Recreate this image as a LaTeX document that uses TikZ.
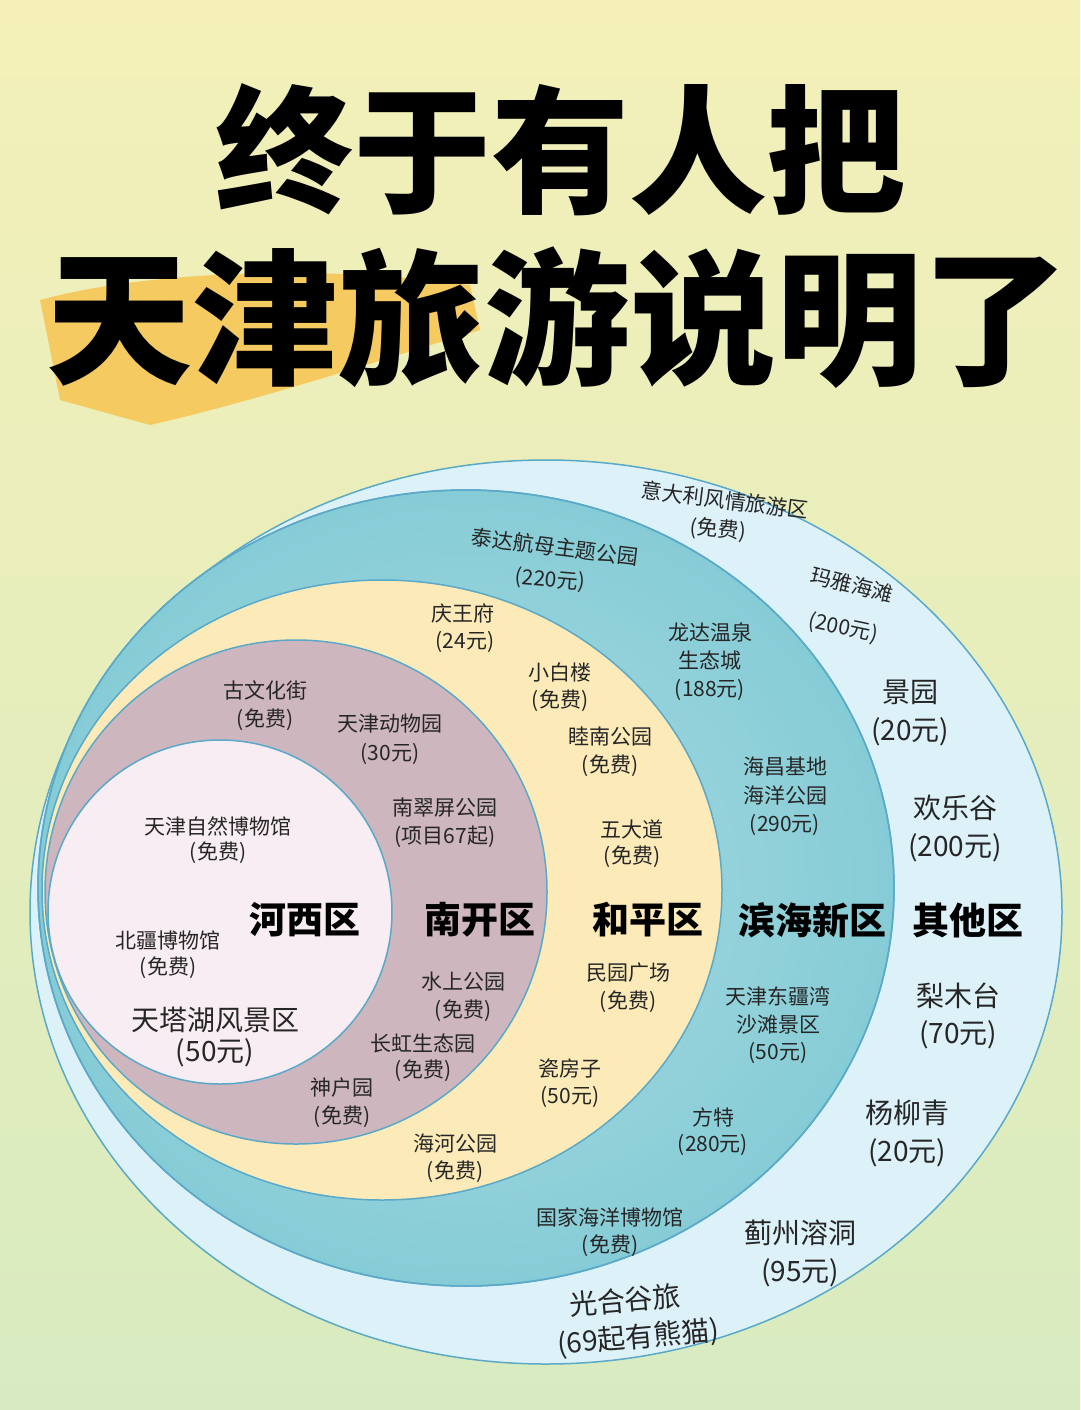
\documentclass[tikz,border=0pt]{standalone}
\usepackage{fontspec}
\setmainfont{Noto Sans CJK SC}
\usetikzlibrary{shapes.geometric}
\definecolor{bgtop}{HTML}{F4F0B8}
\definecolor{bgbot}{HTML}{D8EBC0}
\definecolor{outerc}{HTML}{DDF1F8}
\definecolor{tealc}{HTML}{86CCD6}
\definecolor{yelc}{HTML}{FCEBB8}
\definecolor{mauc}{HTML}{CDB6BE}
\definecolor{pinkc}{HTML}{F7EDF2}
\definecolor{edgec}{HTML}{5AA9C8}
\definecolor{brush}{HTML}{F7C552}
\tikzset{
 sm/.style={font=\fontsize{21}{24}\selectfont, text=black!85, inner sep=0pt},
 md/.style={font=\fontsize{28}{32}\selectfont, text=black!85, inner sep=0pt},
 dist/.style={font=\fontsize{37}{40}\selectfont\bfseries, text=black, inner sep=0pt},
 ttl/.style={font=\fontsize{138}{150}\selectfont\bfseries, text=black, inner sep=0pt},
 ring/.style={draw=edgec, line width=1.5pt}
}
\begin{document}
\begin{tikzpicture}[x=1pt,y=-1pt]
\useasboundingbox (0,0) rectangle (1080,1410);
\shade[top color=bgtop, bottom color=bgbot] (0,0) rectangle (1080,1410);
% brush stroke
\fill[brush, opacity=0.85] (40,300) .. controls (150,270) and (330,265) .. (470,285) -- (480,330) .. controls (380,360) and (260,400) .. (150,425) -- (60,400) -- cycle;
\node[ttl] (t1) at (560,150) {终于有人把};
\node[ttl, font=\fontsize{146}{150}\selectfont\bfseries] (t2) at (557,318) {天津旅游说明了};
% rings
\fill[outerc, ring] (546,912) ellipse [x radius=516pt, y radius=452pt];
\shade[ring, inner color=tealc!70, outer color=tealc] (466,888) ellipse [x radius=428pt, y radius=398pt];
\draw[ring] (466,888) ellipse [x radius=428pt, y radius=398pt];
\fill[yelc, ring] (382,890) ellipse [x radius=340pt, y radius=310pt];
\fill[mauc, ring] (296,892) ellipse [x radius=251pt, y radius=252pt];
\fill[pinkc, ring] (220,912) circle [radius=172pt];
% districts
\node[dist] (d1) at (305,920) {河西区};
\node[dist] (d2) at (480,920) {南开区};
\node[dist] (d3) at (648,920) {和平区};
\node[dist] (d4) at (812,920) {滨海新区};
\node[dist] (d5) at (968,920) {其他区};
% labels
\node[sm, rotate=-7] (a1) at (725,500) {意大利风情旅游区};
\node[sm, rotate=-5] (a2) at (718,530) {(免费)};
\node[sm, rotate=-7] (a3) at (555,547) {泰达航母主题公园};
\node[sm, rotate=-5] (a4) at (550,580) {(220元)};
\node[sm, rotate=-14] (a5) at (852,585) {玛雅海滩};
\node[sm, rotate=-12] (a6) at (843,628) {(200元)};
\node[sm] (b1) at (463,613) {庆王府};
\node[sm] (b2) at (465,642) {(24元)};
\node[sm] (b3) at (710,632) {龙达温泉};
\node[sm] (b4) at (710,661) {生态城};
\node[sm] (b5) at (710,690) {(188元)};
\node[sm] (b6) at (560,672) {小白楼};
\node[sm] (b7) at (560,701) {(免费)};
\node[sm] (c1) at (265,690) {古文化街};
\node[sm] (c2) at (265,720) {(免费)};
\node[md] (c3) at (910,692) {景园};
\node[md] (c4) at (910,732) {(20元)};
\node[sm] (c5) at (390,724) {天津动物园};
\node[sm] (c6) at (390,754) {(30元)};
\node[sm] (c7) at (610,737) {睦南公园};
\node[sm] (c8) at (610,766) {(免费)};
\node[sm] (e1) at (785,767) {海昌基地};
\node[sm] (e2) at (785,795) {海洋公园};
\node[sm] (e3) at (785,825) {(290元)};
\node[md] (e4) at (955,808) {欢乐谷};
\node[md] (e5) at (955,848) {(200元)};
\node[sm] (e6) at (445,808) {南翠屏公园};
\node[sm] (e7) at (445,837) {(项目67起)};
\node[sm] (f1) at (218,826) {天津自然博物馆};
\node[sm] (f2) at (218,853) {(免费)};
\node[sm] (f3) at (632,829) {五大道};
\node[sm] (f4) at (632,857) {(免费)};
\node[sm] (g1) at (168,940) {北疆博物馆};
\node[sm] (g2) at (168,968) {(免费)};
\node[sm] (g3) at (628,973) {民园广场};
\node[sm] (g4) at (628,1002) {(免费)};
\node[sm] (g5) at (463,982) {水上公园};
\node[sm] (g6) at (463,1011) {(免费)};
\node[sm] (h1) at (778,996) {天津东疆湾};
\node[sm] (h2) at (778,1025) {沙滩景区};
\node[sm] (h3) at (778,1053) {(50元)};
\node[md] (h4) at (958,996) {梨木台};
\node[md] (h5) at (958,1035) {(70元)};
\node[md] (h6) at (215,1020) {天塔湖风景区};
\node[md] (h7) at (215,1053) {(50元)};
\node[sm] (i1) at (423,1043) {长虹生态园};
\node[sm] (i2) at (423,1071) {(免费)};
\node[sm] (i3) at (570,1068) {瓷房子};
\node[sm] (i4) at (570,1097) {(50元)};
\node[sm] (i5) at (342,1088) {神户园};
\node[sm] (i6) at (342,1117) {(免费)};
\node[md] (j1) at (907,1113) {杨柳青};
\node[md] (j2) at (907,1153) {(20元)};
\node[sm] (j3) at (713,1117) {方特};
\node[sm] (j4) at (713,1145) {(280元)};
\node[sm] (j5) at (455,1143) {海河公园};
\node[sm] (j6) at (455,1172) {(免费)};
\node[sm] (k1) at (610,1217) {国家海洋博物馆};
\node[sm] (k2) at (610,1246) {(免费)};
\node[md] (k3) at (800,1233) {蓟州溶洞};
\node[md] (k4) at (800,1273) {(95元)};
\node[md, rotate=5] (k5) at (625,1300) {光合谷旅};
\node[md, rotate=5] (k6) at (638,1338) {(69起有熊猫)};
\end{tikzpicture}
\end{document}
